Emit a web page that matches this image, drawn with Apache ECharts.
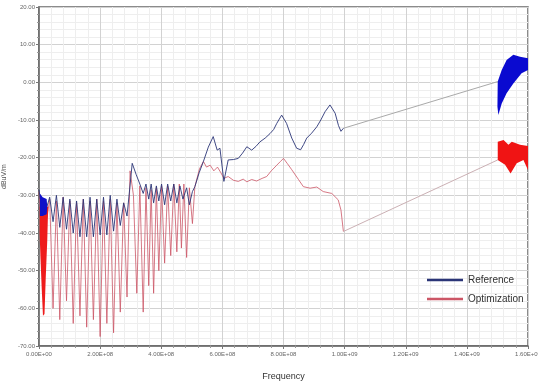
<!DOCTYPE html>
<html>
<head>
<meta charset="utf-8">
<script src="https://cdn.jsdelivr.net/npm/echarts/dist/echarts.min.js"></script>
<style>
html,body{margin:0;padding:0;background:#fff;}
#chart{width:538px;height:382px;}
</style>
</head>
<body>
<div id="chart"></div>
<script>
// frequency in MHz, level in dBuV/m
var refData = [[0,-28.5],[4,-31],[26,-33],[35,-30.5],[46,-37],[57,-30],[68,-38.5],[79,-30.5],[90,-39],[101,-31],
  [112,-40],[123,-31.5],[134,-41],[145,-31],[156,-41],[167,-30.5],[178,-41],[189,-31],[200,-40.5],[211,-30.5],
  [222,-40.5],[233,-30],[244,-39.5],[255,-31],[266,-38],[277,-32],[288,-35.5],[305,-21.5],[318,-24.5],[330,-27],
  [341,-29.5],[350,-27],[359,-31],[367,-27],[375,-32],[384,-27.5],[392,-31.5],[401,-27],[411,-32.5],[421,-27],
  [431,-31.5],[441,-27],[451,-32],[461,-27.5],[471,-31],[483,-28],[492,-32.5],[502,-29],[510,-27.7],[524,-24],
  [538,-21],[554,-17.2],[570,-14.4],[583,-18],[592,-17.5],[605,-26.3],[619,-20.6],[636,-20.5],[652,-20.2],[666,-18.8],
  [680,-17.1],[696,-18],[710,-17],[723,-15.8],[740,-14.8],[756,-13.6],[768,-12.5],[778,-10.9],[794,-8.7],[810,-10.9],
  [827,-14.8],[843,-17.5],[856,-17.9],[866,-16.5],[876,-14.8],[892,-13.5],[909,-11.8],[922,-10],[936,-7.8],[952,-6],
  [969,-8.2],[980,-11.5],[988,-13],[996,-12.2]];
var optData = [[0,-29],[4,-34],[26,-36],[35,-31],[46,-60],[57,-31.5],[68,-63],[79,-30.5],[90,-58],[101,-31.5],
  [112,-64],[123,-32],[134,-62],[145,-31],[156,-65],[167,-31.5],[178,-63],[189,-31],[200,-67.5],[211,-31.5],
  [222,-64],[233,-31],[244,-66.5],[255,-32],[266,-61],[277,-32],[288,-57],[298,-23.5],[309,-30],[320,-56],
  [330,-27.5],[341,-61],[350,-28],[359,-54],[367,-28.5],[375,-56],[384,-28],[392,-50],[401,-27.5],[411,-48],
  [421,-27.5],[431,-46],[441,-27],[451,-45],[459,-27],[466,-44],[474,-27],[483,-46.5],[492,-28],[502,-37.5],
  [510,-27.7],[525,-23],[538,-21],[548,-22.5],[560,-22],[572,-23.5],[584,-22.5],[595,-24],[605,-25.5],[619,-25],
  [636,-26],[652,-26.3],[668,-25.7],[680,-26.4],[696,-25.8],[712,-26.2],[730,-25.5],[745,-25],[760,-23.5],[778,-22],
  [790,-21],[800,-20.2],[812,-21.5],[827,-23.2],[849,-25.8],[865,-27.7],[887,-28.1],[909,-27.8],[930,-29],[958,-29.5],
  [979,-31.2],[988,-33.9],[996,-39.6]];
// straight jumps over the gap 1.0 - 1.5 GHz
var refGap = [[996,-12.2],[1501,0.2]];
var optGap = [[996,-39.6],[1501,-20.6]];
// dense oscillation areas drawn as filled outlines
var refBlobLow = [[3,-29.5],[12,-30.5],[25,-31],[27,-33],[25,-35],[12,-35.5],[3,-35.5]];
var optBlobLow = [[2,-33],[30,-33],[27,-42],[22,-52],[18,-61.5],[13,-62],[9,-55],[5,-47],[2,-40]];
var refBlobHigh = [[1501,0.2],[1514,3.3],[1530,5.9],[1552,7.3],[1574,6.8],[1600,6.4],[1600,3.3],[1579,2.4],
  [1552,-0.3],[1530,-2.9],[1514,-5.6],[1503,-8.7],[1500,-6.5]];
var optBlobHigh = [[1501,-15.8],[1520,-15.3],[1536,-16.6],[1547,-15.8],[1574,-16.6],[1600,-16.9],[1600,-23.3],
  [1585,-20.6],[1563,-21.5],[1543,-24.2],[1525,-21.9],[1501,-20.6]];

var REF_COLOR = '#2b3577';
var OPT_COLOR = '#cc5666';
var FONT = 'Liberation Sans Narrow, Liberation Sans, sans-serif';

//x轴标签 1.00E+09 形式
function hzLabel(v)
{
	if(v === 0) return '0.00E+00';
	var hz = v * 1e6;
	var e = Math.floor(Math.log10(hz) + 1e-9);
	var m = hz / Math.pow(10, e);
	return m.toFixed(2) + 'E+' + (e < 10 ? '0' : '') + e;
}

function blobSeries(outline, color, z)
{
	return {
		type: 'custom', silent: true, z: z,
		data: [outline[0]],
		renderItem: function(params, api) {
			var pts = outline.map(function(p) { return api.coord(p); });
			return {type: 'polygon', shape: {points: pts}, style: {fill: color}};
		}
	};
}

function lineSeries(name, data, color, width, z)
{
	return {type: 'line', name: name, data: data, color: color, showSymbol: false, symbol: 'none',
		lineStyle: {color: color, width: width}, z: z};
}

var myChart = echarts.init(document.getElementById('chart'));
var option = {
	animation: false,
	backgroundColor: '#fff',
	//v6默认会把溢出的标签收进容器，这里关掉，保持固定像素位置
	grid: {left: 39, right: 10, top: 7, bottom: 36, show: true, borderColor: '#666', borderWidth: 1.5,
		outerBoundsMode: 'none', containLabel: false},
	legend: {
		data: ['Reference', 'Optimization'],
		orient: 'vertical', left: 427, top: 275, padding: 0,
		icon: 'rect', itemWidth: 36, itemHeight: 2.5, itemGap: 9,
		textStyle: {fontFamily: FONT, fontSize: 10, color: '#333'}
	},
	xAxis: {
		type: 'value', min: 0, max: 1600, interval: 200,
		name: 'Frequency', nameLocation: 'center', nameGap: 26,
		nameTextStyle: {fontFamily: FONT, fontSize: 9, color: '#333'},
		axisLine: {onZero: false, lineStyle: {color: '#666', width: 1.5}},
		axisTick: {show: true, length: 3, lineStyle: {color: '#777'}},
		minorTick: {show: true, splitNumber: 5, length: 2, lineStyle: {color: '#999'}},
		axisLabel: {formatter: hzLabel, fontFamily: FONT, fontSize: 6, color: '#666', margin: 5},
		splitLine: {lineStyle: {color: '#d2d2d2'}},
		minorSplitLine: {show: true, lineStyle: {color: '#eeeeee'}}
	},
	yAxis: {
		type: 'value', min: -70, max: 20, interval: 10,
		name: 'dBuV/m', nameLocation: 'center', nameGap: 25, nameRotate: 90,
		nameTextStyle: {fontFamily: FONT, fontSize: 7, color: '#555'},
		axisLine: {show: true, onZero: false, lineStyle: {color: '#666', width: 1.5}},
		axisTick: {show: true, length: 3, lineStyle: {color: '#777'}},
		minorTick: {show: true, splitNumber: 5, length: 2, lineStyle: {color: '#999'}},
		axisLabel: {formatter: function(v) { return v.toFixed(2); }, fontFamily: FONT, fontSize: 6, color: '#666', margin: 4},
		splitLine: {lineStyle: {color: '#d2d2d2'}},
		minorSplitLine: {show: true, lineStyle: {color: '#eeeeee'}}
	},
	series: [
		lineSeries('Optimization', optData, OPT_COLOR, 0.8, 2),
		lineSeries('Reference', refData, REF_COLOR, 0.9, 3),
		lineSeries('optGap', optGap, '#cbb0b4', 1, 2),
		lineSeries('refGap', refGap, '#a9a9a9', 1, 2),
		blobSeries(optBlobLow, '#ee1c1c', 4),
		blobSeries(refBlobLow, '#1010c8', 5),
		blobSeries(optBlobHigh, '#f01414', 4),
		blobSeries(refBlobHigh, '#0a0ad0', 5)
	]
};
myChart.setOption(option);
</script>
</body>
</html>
